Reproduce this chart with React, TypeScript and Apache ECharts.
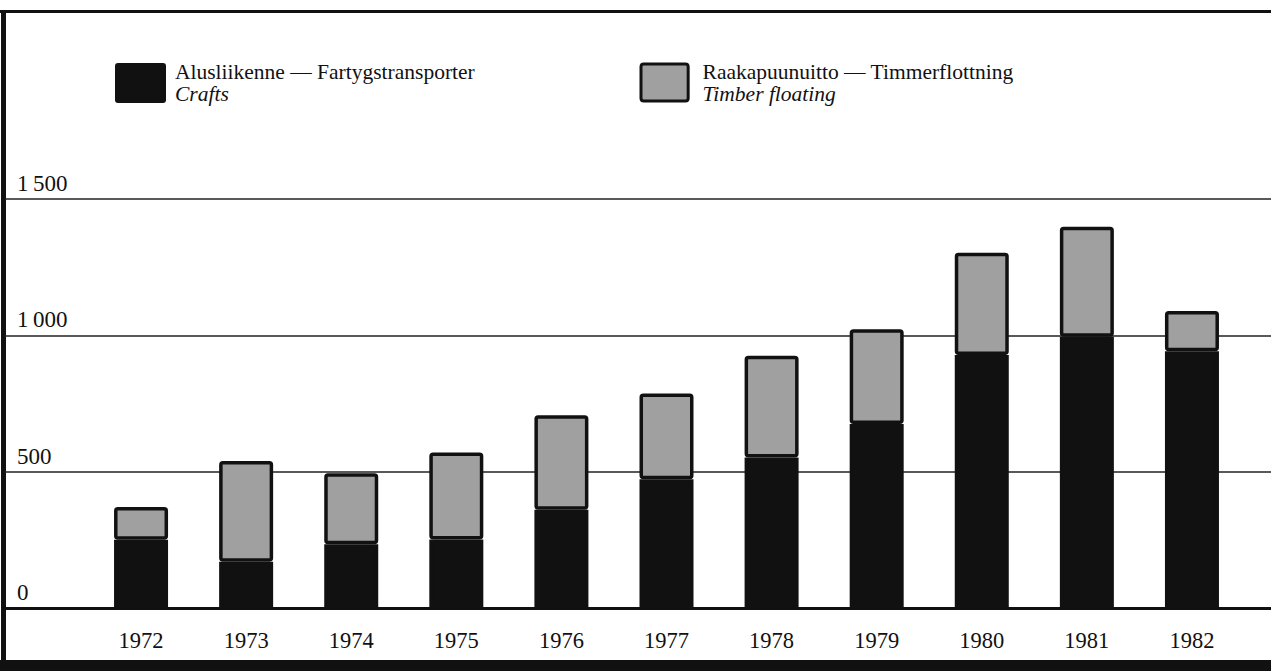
import React, { useEffect, useRef } from "react";
import * as echarts from "echarts";

const years = ["1972", "1973", "1974", "1975", "1976", "1977", "1978", "1979", "1980", "1981", "1982"];
const crafts = [250, 170, 234, 251, 360, 472, 552, 675, 928, 995, 942];
const timber = [120, 369, 260, 319, 347, 315, 373, 347, 375, 403, 147];
const seriesNames = ["Alusliikenne \u2014 Fartygstransporter", "Raakapuunuitto \u2014 Timmerflottning"];
const seriesEnglish = ["Crafts", "Timber floating"];
const yTicks = [0, 500, 1000, 1500];

const FONT = '"Liberation Serif", "Times New Roman", serif';
const INK = "#111";
const GRAY = "#a0a0a0";
const ICON = "path://M3,0 H48 Q51,0 51,3 V37 Q51,40 48,40 H3 Q0,40 0,37 V3 Q0,0 3,0 Z";

export default function App() {
  const ref = useRef<HTMLDivElement>(null);
  useEffect(() => {
    if (!ref.current) return;
    const chart = echarts.init(ref.current, null, { renderer: "svg" });
    const legendFmt = (name: string) => {
      const i = seriesNames.indexOf(name);
      return `{a|${name}}\n{b|${seriesEnglish[i]}}`;
    };
    const mkRich = (pad: number) => ({
      a: { fontFamily: FONT, fontSize: 21.5, color: INK, lineHeight: 22, padding: [0, 0, 0, pad] },
      b: { fontFamily: FONT, fontSize: 21.5, fontStyle: "italic", color: INK, lineHeight: 22, padding: [0, 0, 0, pad] },
    });
    const topVal = yTicks[yTicks.length - 1];
    chart.setOption({
      animation: false,
      backgroundColor: "#fff",
      textStyle: { fontFamily: FONT },
      grid: [
        { left: 88.5, right: 26.5, top: 199, bottom: 63 },
        { left: 5, right: 0, top: 199, bottom: 63 },
      ],
      legend: [
        {
          left: 115, top: 61, itemWidth: 51, itemHeight: 40, padding: 0,
          data: [{ name: seriesNames[0], icon: ICON, itemStyle: { color: INK, borderColor: INK, borderWidth: 0 } }],
          formatter: legendFmt, textStyle: { rich: mkRich(4) },
          selectedMode: false,
        },
        {
          left: 639.5, top: 60.5, itemWidth: 48, itemHeight: 37, padding: 0,
          data: [{ name: seriesNames[1], icon: ICON, itemStyle: { color: GRAY, borderColor: INK, borderWidth: 3 } }],
          formatter: legendFmt, textStyle: { rich: mkRich(9) },
          selectedMode: false,
        },
      ],
      xAxis: [
        {
          type: "category", data: years, gridIndex: 0,
          axisLine: { show: false }, axisTick: { show: false },
          axisLabel: { margin: 21, fontFamily: FONT, fontSize: 22.5, color: INK },
        },
        {
          type: "value", gridIndex: 1, min: 0, max: 1,
          axisLine: { show: true, onZero: false, lineStyle: { color: INK, width: 3 } },
          axisTick: { show: false }, axisLabel: { show: false }, splitLine: { show: false },
        },
      ],
      yAxis: [
        {
          type: "value", gridIndex: 0, min: 0, max: topVal, interval: 500,
          show: false, splitLine: { show: false },
        },
        {
          type: "value", gridIndex: 1, min: 0, max: topVal, interval: 500,
          axisLine: { show: false }, axisTick: { show: false },
          splitLine: { show: true, lineStyle: { color: "#222", width: 1.5 } },
          axisLabel: {
            inside: true, margin: 12, verticalAlign: "bottom", align: "left",
            padding: [0, 0, 4, 0],
            fontFamily: FONT, fontSize: 23, color: INK,
            formatter: (v: number) => (v >= 1000 ? `${Math.floor(v / 1000)}\u2009${String(v % 1000).padStart(3, "0")}` : String(v)),
          },
        },
      ],
      series: [
        {
          name: seriesNames[0], type: "bar", stack: "t", data: crafts, barWidth: 54,
          xAxisIndex: 0, yAxisIndex: 0,
          itemStyle: { color: INK, borderColor: INK, borderWidth: 3 },
        },
        {
          name: seriesNames[1], type: "bar", stack: "t", data: timber, barWidth: 54,
          xAxisIndex: 0, yAxisIndex: 0,
          itemStyle: { color: GRAY, borderColor: INK, borderWidth: 3.5, borderRadius: 2 },
        },
      ],
      graphic: [
        { type: "rect", shape: { x: 0, y: 10, width: 1271, height: 3 }, style: { fill: INK } },
        { type: "rect", shape: { x: 1, y: 10, width: 5, height: 661 }, style: { fill: INK } },
        { type: "rect", shape: { x: 0, y: 660, width: 1271, height: 11 }, style: { fill: INK } },
      ],
    });
    return () => chart.dispose();
  }, []);
  return (
    <div
      ref={ref}
      style={{ position: "fixed", left: 0, top: 0, width: 1271, height: 671, background: "#fff" }}
    />
  );
}
